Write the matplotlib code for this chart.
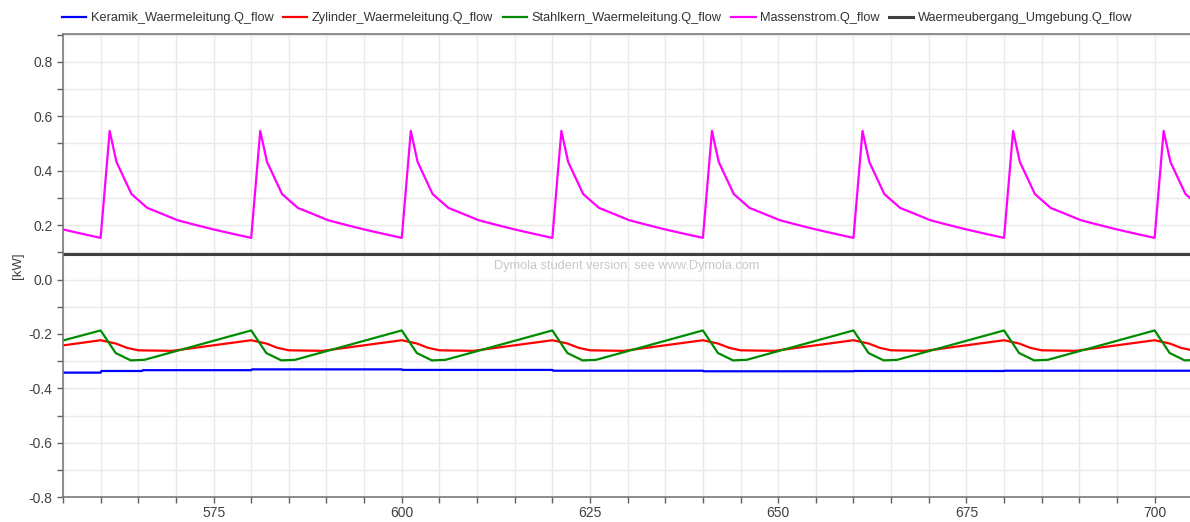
import matplotlib
matplotlib.use("Agg")
import matplotlib.pyplot as plt
from matplotlib.ticker import MultipleLocator, FuncFormatter

plt.rcParams['font.family'] = ['Liberation Sans', 'DejaVu Sans']

# ---- data (time in s, heat flow in kW) ----
mass_t = [555.0, 557.7,
          560.0, 561.2, 562.1, 564.1, 566.2, 568.0, 570.2, 572.4, 575.0, 577.7,
          580.0, 581.2, 582.1, 584.1, 586.2, 588.0, 590.2, 592.4, 595.0, 597.7,
          600.0, 601.2, 602.1, 604.1, 606.2, 608.0, 610.2, 612.4, 615.0, 617.7,
          620.0, 621.2, 622.1, 624.1, 626.2, 628.0, 630.2, 632.4, 635.0, 637.7,
          640.0, 641.2, 642.1, 644.1, 646.2, 648.0, 650.2, 652.4, 655.0, 657.7,
          660.0, 661.2, 662.1, 664.1, 666.2, 668.0, 670.2, 672.4, 675.0, 677.7,
          680.0, 681.2, 682.1, 684.1, 686.2, 688.0, 690.2, 692.4, 695.0, 697.7,
          700.0, 701.2, 702.1, 704.1, 706.2]
mass_v = [0.184, 0.167,
          0.153, 0.546, 0.432, 0.314, 0.263, 0.243, 0.218, 0.202, 0.184, 0.167,
          0.153, 0.546, 0.432, 0.314, 0.263, 0.243, 0.218, 0.202, 0.184, 0.167,
          0.153, 0.546, 0.432, 0.314, 0.263, 0.243, 0.218, 0.202, 0.184, 0.167,
          0.153, 0.546, 0.432, 0.314, 0.263, 0.243, 0.218, 0.202, 0.184, 0.167,
          0.153, 0.546, 0.432, 0.314, 0.263, 0.243, 0.218, 0.202, 0.184, 0.167,
          0.153, 0.546, 0.432, 0.314, 0.263, 0.243, 0.218, 0.202, 0.184, 0.167,
          0.153, 0.546, 0.432, 0.314, 0.263, 0.243, 0.218, 0.202, 0.184, 0.167,
          0.153, 0.546, 0.432, 0.314, 0.263]

zyl_t = [555.0,
         560.0, 562.0, 563.5, 565.0, 569.5,
         580.0, 582.0, 583.5, 585.0, 589.5,
         600.0, 602.0, 603.5, 605.0, 609.5,
         620.0, 622.0, 623.5, 625.0, 629.5,
         640.0, 642.0, 643.5, 645.0, 649.5,
         660.0, 662.0, 663.5, 665.0, 669.5,
         680.0, 682.0, 683.5, 685.0, 689.5,
         700.0, 702.0, 703.5, 705.0]
zyl_v = [-0.242,
         -0.223, -0.235, -0.251, -0.260, -0.262,
         -0.223, -0.235, -0.251, -0.260, -0.262,
         -0.223, -0.235, -0.251, -0.260, -0.262,
         -0.223, -0.235, -0.251, -0.260, -0.262,
         -0.223, -0.235, -0.251, -0.260, -0.262,
         -0.223, -0.235, -0.251, -0.260, -0.262,
         -0.223, -0.235, -0.251, -0.260, -0.262,
         -0.223, -0.235, -0.251, -0.260]

stahl_t = [555.0,
           560.0, 562.0, 564.0, 565.8,
           580.0, 582.0, 584.0, 585.8,
           600.0, 602.0, 604.0, 605.8,
           620.0, 622.0, 624.0, 625.8,
           640.0, 642.0, 644.0, 645.8,
           660.0, 662.0, 664.0, 665.8,
           680.0, 682.0, 684.0, 685.8,
           700.0, 702.0, 704.0, 705.8]
stahl_v = [-0.224,
           -0.187, -0.270, -0.297, -0.295,
           -0.187, -0.270, -0.297, -0.295,
           -0.187, -0.270, -0.297, -0.295,
           -0.187, -0.270, -0.297, -0.295,
           -0.187, -0.270, -0.297, -0.295,
           -0.187, -0.270, -0.297, -0.295,
           -0.187, -0.270, -0.297, -0.295,
           -0.187, -0.270, -0.297, -0.295]

keramik_t = [555.0, 560.0, 560.1, 565.5, 565.6, 580.0, 580.1, 600.0, 600.1,
             620.0, 620.1, 640.0, 640.1, 660.0, 660.1, 680.0, 680.1, 705.0]
keramik_v = [-0.342, -0.342, -0.336, -0.336, -0.333, -0.333, -0.330, -0.330, -0.332,
             -0.332, -0.335, -0.335, -0.337, -0.337, -0.336, -0.336, -0.335, -0.335]

umgebung_t = [555.0, 705.0]
umgebung_v = [0.095, 0.095]

labels = ["Keramik_Waermeleitung.Q_flow", "Zylinder_Waermeleitung.Q_flow",
          "Stahlkern_Waermeleitung.Q_flow", "Massenstrom.Q_flow",
          "Waermeubergang_Umgebung.Q_flow"]
colors = ["#0000ff", "#ff0000", "#008c00", "#ff00ff", "#404040"]

# ---- figure ----
fig = plt.figure(figsize=(11.9, 5.22), dpi=100)
ax = fig.add_axes([63 / 1190, 1 - 497.3 / 522, 1 - 63 / 1190, (497.3 - 34) / 522])

series = [(keramik_t, keramik_v), (zyl_t, zyl_v), (stahl_t, stahl_v),
          (mass_t, mass_v), (umgebung_t, umgebung_v)]
handles = []
for (t, v), lab, col in zip(series, labels, colors):
    lw = 2.2 if col == "#404040" else 1.6
    h, = ax.plot(t, v, color=col, lw=lw, label=lab, solid_joinstyle='round')
    handles.append(h)

ax.set_xlim(555.0, 704.7)
ax.set_ylim(-0.8, 0.902)

ax.xaxis.set_major_locator(MultipleLocator(25))
ax.xaxis.set_minor_locator(MultipleLocator(5))
ax.yaxis.set_major_locator(MultipleLocator(0.2))
ax.yaxis.set_minor_locator(MultipleLocator(0.1))
ax.yaxis.set_major_formatter(FuncFormatter(lambda v, p: f"{v:.1f}".replace("-0.0", "0.0")))

ax.grid(True, which='both', color='#e9e9e9', lw=1.0)
ax.set_axisbelow(True)

for side in ['left', 'bottom', 'top', 'right']:
    ax.spines[side].set_color('#7a7a7a')
    ax.spines[side].set_linewidth(1.2)
ax.spines['right'].set_visible(False)

ax.tick_params(which='both', direction='out', length=4, width=1.0, color='#606060',
               labelsize=10, labelcolor='#404040')
ax.tick_params(axis='x', pad=2)

ax.set_ylabel("[kW]", fontsize=9.5, color='#404040', labelpad=3)

ax.text(0.5, 0.5, "Dymola student version, see www.Dymola.com",
        transform=ax.transAxes, ha='center', va='center', fontsize=9.2,
        color='#c8c8c8')

fig.legend(handles=handles, labels=labels, loc='upper left',
           bbox_to_anchor=(57 / 1190, 1 - 7 / 522), ncol=5, frameon=False,
           fontsize=9.2, handlelength=1.9, handletextpad=0.35, columnspacing=0.75,
           borderaxespad=0, labelcolor='#333333')

fig.savefig("out.png", dpi=100)
